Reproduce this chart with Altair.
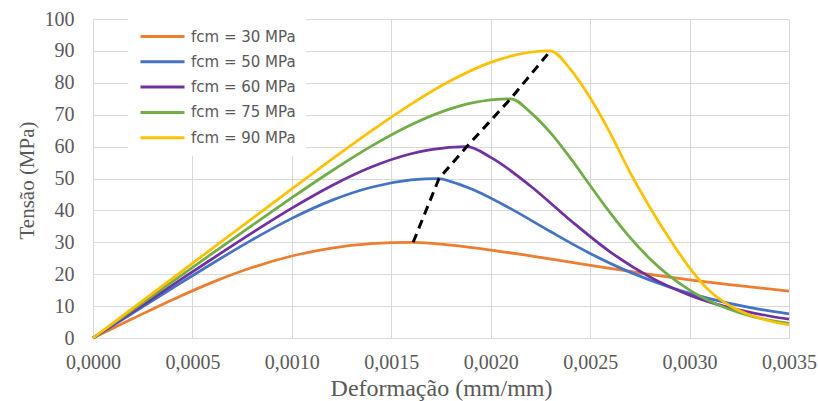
import altair as alt
import pandas as pd

# ---- data ----
series_names = ["fcm = 30 MPa", "fcm = 50 MPa", "fcm = 60 MPa", "fcm = 75 MPa", "fcm = 90 MPa"]
series_colors = ["#ED7D31", "#4472C4", "#7030A0", "#70AD47", "#FFC000"]

strain_30 = [0, 0.0002, 0.0004, 0.0006, 0.0008, 0.0010, 0.0012, 0.0014, 0.0015, 0.00161,
             0.0018, 0.0020, 0.0022, 0.0024, 0.0026, 0.0028, 0.0030, 0.0032, 0.0035]
stress_30 = [0, 6.09, 12.00, 17.44, 22.08, 25.70, 28.18, 29.56, 29.88, 30.0,
             29.10, 27.58, 25.74, 23.77, 21.81, 19.94, 18.21, 16.7, 14.7]

strain_50 = [0, 0.0002, 0.0004, 0.0006, 0.0008, 0.0010, 0.0012, 0.0014, 0.0016, 0.00174,
             0.0018, 0.0019, 0.0021, 0.0023, 0.0025, 0.0027, 0.0029, 0.0031, 0.0033, 0.0035]
stress_50 = [0, 7.84, 15.66, 23.37, 30.76, 37.50, 43.14, 47.26, 49.54, 50.0,
             49.03, 46.78, 40.56, 33.37, 26.51, 20.65, 15.96, 12.34, 9.58, 7.55]

strain_60 = [0, 0.0002, 0.0004, 0.0006, 0.0008, 0.0010, 0.0012, 0.0014, 0.0016, 0.0017, 0.00188,
             0.0020, 0.0022, 0.0024, 0.0026, 0.0028, 0.0030, 0.0032, 0.0034, 0.0035]
stress_60 = [0, 8.30, 16.59, 24.85, 32.96, 40.71, 47.75, 53.61, 57.77, 59.07, 60.0,
             56.63, 47.66, 36.93, 27.02, 19.17, 13.45, 9.5, 6.9, 5.9]

strain_75 = [0, 0.0002, 0.0004, 0.0006, 0.0008, 0.0010, 0.0012, 0.0014, 0.0016, 0.0018, 0.0019,
             0.0020, 0.0021, 0.0022, 0.0023, 0.0024, 0.0025, 0.0026, 0.0027, 0.0028, 0.0029,
             0.0030, 0.0031, 0.0032, 0.0033, 0.0034, 0.0035]
stress_75 = [0, 8.84, 17.68, 26.51, 35.30, 43.97, 52.36, 60.15, 66.86, 71.90, 73.60,
             74.64, 75.0, 70.73, 64.37, 56.46, 47.81, 39.28, 31.52, 24.85, 19.38,
             15.03, 11.62, 9.0, 7.0, 5.6, 4.6]

strain_90 = [0, 0.0002, 0.0004, 0.0006, 0.0008, 0.0010, 0.0012, 0.0014, 0.0016, 0.0018, 0.0020,
             0.0021, 0.0022, 0.0023, 0.0024, 0.0025, 0.0026, 0.0027, 0.0028, 0.0029, 0.0030,
             0.0031, 0.0032, 0.0033, 0.0034, 0.0035]
stress_90 = [0, 9.36, 18.72, 28.09, 37.44, 46.75, 55.97, 64.92, 73.32, 80.70, 86.39,
             88.34, 89.58, 90.0, 84.3, 75.3, 64.3, 52.0, 41.0, 31.0, 22.0,
             14.8, 10.2, 7.3, 5.4, 4.1]

peak_strain = [0.00161, 0.00174, 0.00188, 0.0021, 0.0023]
peak_stress = [30, 50, 60, 75, 90]

x_ticks = [0, 0.0005, 0.0010, 0.0015, 0.0020, 0.0025, 0.0030, 0.0035]
y_ticks = [0, 10, 20, 30, 40, 50, 60, 70, 80, 90, 100]

# ---- tables ----
all_strains = [strain_30, strain_50, strain_60, strain_75, strain_90]
all_stresses = [stress_30, stress_50, stress_60, stress_75, stress_90]
rows = []
for name, xs, ys in zip(series_names, all_strains, all_stresses):
    for i, (a, b) in enumerate(zip(xs, ys)):
        rows.append({"serie": name, "ordem": i, "deformacao": a, "tensao": b})
curves = pd.DataFrame(rows)
peaks = pd.DataFrame({"deformacao": peak_strain, "tensao": peak_stress,
                      "ordem": list(range(len(peak_strain)))})

TICK_FONT = "'Liberation Serif', 'Times New Roman', Times, serif"
GREY = "#595959"

x_scale = alt.Scale(domain=[0, 0.0035], nice=False, zero=True)
y_scale = alt.Scale(domain=[0, 100], nice=False)

x_axis = alt.Axis(
    title="Deformação (mm/mm)", values=x_ticks,
    labelExpr="replace(format(datum.value, '.4f'), '.', ',')",
    grid=True, gridColor="#D9D9D9", gridWidth=1, domain=False, ticks=False, tickSize=0,
    labelFont=TICK_FONT, labelFontSize=20, labelColor=GREY, labelPadding=14,
    labelFlush=False, labelOverlap=False, labelBound=False,
    titleFont=TICK_FONT, titleFontSize=24, titleFontWeight="normal", titleColor=GREY,
    titleY=57, titleBaseline="alphabetic",
)
y_axis = alt.Axis(
    title="Tensão (MPa)", values=y_ticks,
    grid=True, gridColor="#D9D9D9", gridWidth=1, domain=False, ticks=False, tickSize=0,
    labelFont=TICK_FONT, labelFontSize=20, labelColor=GREY, labelPadding=19,
    labelOverlap=False, labelFlush=False,
    titleFont=TICK_FONT, titleFontSize=21, titleFontWeight="normal", titleColor=GREY,
    titleX=-60, titleY=161, titleBaseline="alphabetic", titleAngle=270, titleAlign="center",
)

legend = alt.Legend(
    title=None, orient="none", legendX=35, legendY=0,
    symbolType="M-1,0H7.8", symbolSize=100, symbolStrokeWidth=3,
    labelOffset=38, labelFont="DejaVu Sans", labelFontSize=15, labelColor=GREY,
    rowPadding=9.3, fillColor="white", padding=10,
)

lines = alt.Chart(curves).mark_line(strokeWidth=2.75, interpolate="monotone").encode(
    x=alt.X("deformacao:Q", scale=x_scale, axis=x_axis),
    y=alt.Y("tensao:Q", scale=y_scale, axis=y_axis),
    color=alt.Color("serie:N", scale=alt.Scale(domain=series_names, range=series_colors),
                    legend=legend),
    order=alt.Order("ordem:Q"),
)

dashed = alt.Chart(peaks).mark_line(color="black", strokeWidth=3, strokeDash=[9, 6]).encode(
    x=alt.X("deformacao:Q", scale=x_scale, axis=x_axis),
    y=alt.Y("tensao:Q", scale=y_scale, axis=y_axis),
    order=alt.Order("ordem:Q"),
)

chart = alt.layer(lines, dashed).properties(
    width=696, height=319,
    autosize=alt.AutoSizeParams(type="none"),
    padding={"left": 93, "top": 19, "right": 29, "bottom": 63},
    background="white",
).configure_view(stroke=None)

chart.save("out.html", embed_options={"renderer": "svg", "actions": False})
